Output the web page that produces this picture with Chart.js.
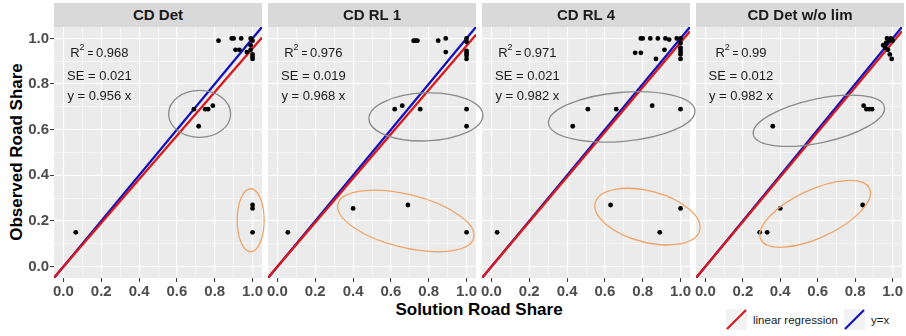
<!DOCTYPE html>
<html>
<head>
<meta charset="utf-8">
<script src="https://cdn.jsdelivr.net/npm/chart.js@4.4.0/dist/chart.umd.min.js"></script>
<style>
  body { margin: 0; background: #fff; }
  #wrap { position: relative; width: 906px; height: 336px; overflow: hidden; font-family: "Liberation Sans", Arial, sans-serif; }
  #wrap canvas { position: absolute; left: 0; top: 0; }
  .strip { position: absolute; top: 3px; height: 24px; background: #D9D9D9; color: #1A1A1A; font-weight: bold; font-size: 15px; line-height: 24px; text-align: center; z-index: 20; }
  .xtitle { position: absolute; left: 0; width: 958px; top: 300px; text-align: center; font-weight: bold; font-size: 17px; line-height: 20px; color: #000; }
  .ytitle { position: absolute; left: 17px; top: 152px; transform: translate(-50%, -50%) rotate(-90deg); white-space: nowrap; font-weight: bold; font-size: 17px; line-height: 20px; color: #000; }
  .legend { position: absolute; top: 309px; left: 726px; height: 21px; display: flex; align-items: center; font-size: 11.5px; color: #1A1A1A; }
  .legend svg { display: block; }
  .legend span { margin: 0 6px 0 6px; }
</style>
</head>
<body>
<div id="wrap">
  <div class="xtitle">Solution Road Share</div>
  <div class="ytitle">Observed Road Share</div>
  <div class="legend">
    <svg width="21" height="21"><rect width="21" height="21" fill="#F2F2F2"/><line x1="1" y1="20" x2="20" y2="1" stroke="#D7191C" stroke-width="2.2"/></svg>
    <span>linear regression</span>
    <svg width="21" height="21"><rect width="21" height="21" fill="#F2F2F2"/><line x1="1" y1="20" x2="20" y2="1" stroke="#1010C0" stroke-width="2.2"/></svg>
    <span>y=x</span>
  </div>
</div>
<script>
const tickVals = [0, 0.1, 0.2, 0.3, 0.4, 0.5, 0.6, 0.7, 0.8, 0.9, 1.0];
const panelTitles = ["CD Det", "CD RL 1", "CD RL 4", "CD Det w/o lim"];
const slopes = [0.956, 0.968, 0.982, 0.982];
const r2Values = ["0.968", "0.976", "0.971", "0.99"];
const seValues = ["0.021", "0.019", "0.021", "0.012"];

const detX = [0.82, 0.89, 0.90, 0.94, 0.99, 1.00, 0.99, 0.91, 0.93, 0.97, 0.99, 1.00, 1.00, 1.00, 0.69, 0.75, 0.765, 0.79, 0.715, 1.00, 1.00, 1.00, 0.065];
const detY = [0.99, 1.00, 1.00, 1.00, 1.00, 0.99, 0.97, 0.95, 0.95, 0.94, 0.95, 0.93, 0.92, 0.91, 0.69, 0.69, 0.69, 0.705, 0.615, 0.27, 0.255, 0.15, 0.15];

const rl1X = [0.72, 0.73, 0.74, 0.85, 0.89, 0.89, 1.00, 1.00, 1.00, 1.00, 1.00, 1.00, 0.62, 0.66, 0.755, 1.00, 1.00, 0.40, 0.69, 1.00, 0.055];
const rl1Y = [0.99, 0.99, 0.99, 0.99, 1.00, 0.94, 1.00, 0.985, 0.945, 0.935, 0.925, 0.91, 0.69, 0.705, 0.69, 0.69, 0.615, 0.255, 0.27, 0.15, 0.15];

const rl4X = [0.79, 0.80, 0.84, 0.88, 0.92, 0.94, 0.98, 1.00, 0.76, 0.79, 0.915, 0.87, 1.00, 1.00, 1.00, 1.00, 1.00, 1.00, 0.43, 0.51, 0.66, 0.85, 1.00, 0.63, 0.89, 1.00, 0.03];
const rl4Y = [1.00, 1.00, 1.00, 1.00, 1.00, 0.995, 1.00, 1.00, 0.937, 0.937, 0.95, 0.91, 0.98, 0.96, 0.95, 0.94, 0.93, 0.91, 0.615, 0.69, 0.69, 0.705, 0.69, 0.27, 0.15, 0.255, 0.15];

const noLimX = [0.95, 0.965, 0.97, 0.99, 0.98, 1.00, 0.975, 0.985, 0.995, 0.96, 0.36, 0.845, 0.86, 0.875, 0.89, 0.29, 0.33, 0.40, 0.84];
const noLimY = [0.97, 0.98, 1.00, 1.00, 0.99, 0.99, 0.95, 0.93, 0.91, 0.96, 0.615, 0.705, 0.69, 0.69, 0.69, 0.15, 0.15, 0.255, 0.27];

const seriesX = [detX, rl1X, rl4X, noLimX];
const seriesY = [detY, rl1Y, rl4Y, noLimY];

// highlight ellipses: centre in data units, half axes in px, rotation in degrees
const grayEllipses = [
  { cx: 0.72, cy: 0.669, a: 31, b: 23.5, rot: 0 },
  { cx: 0.785, cy: 0.656, a: 57, b: 24, rot: -2 },
  { cx: 0.689, cy: 0.656, a: 73.5, b: 24.5, rot: -5 },
  { cx: 0.606, cy: 0.639, a: 67, b: 22, rot: -12 }
];
const orangeEllipses = [
  { cx: 0.99, cy: 0.203, a: 13.5, b: 31.5, rot: 0 },
  { cx: 0.679, cy: 0.2, a: 70, b: 26.5, rot: 14 },
  { cx: 0.825, cy: 0.219, a: 54, b: 25.5, rot: 15 },
  { cx: 0.586, cy: 0.231, a: 60, b: 24, rot: -25 }
];

const RED = "#D7191C";
const BLUE = "#1010C0";
const panelLeft = [54, 268, 482, 696];
const panelWidth = 208;
const panelTop = 27;
const panelBottom = 278;
const FONT = "'Liberation Sans', Arial, sans-serif";

const isMajor = (v) => Math.round(v * 10) % 2 === 0;

const drawEllipse = (chart, e, color) => {
  const { ctx, scales } = chart;
  ctx.save();
  ctx.strokeStyle = color;
  ctx.lineWidth = 1.3;
  ctx.beginPath();
  ctx.ellipse(scales.x.getPixelForValue(e.cx), scales.y.getPixelForValue(e.cy), e.a, e.b, (e.rot * Math.PI) / 180, 0, Math.PI * 2);
  ctx.stroke();
  ctx.restore();
};

const drawParts = (ctx, parts, cx, cy) => {
  let total = 0;
  parts.forEach((p) => {
    ctx.font = p[1] + "px " + FONT;
    total += ctx.measureText(p[0]).width;
  });
  let x = cx - total / 2;
  parts.forEach((p) => {
    ctx.font = p[1] + "px " + FONT;
    ctx.fillText(p[0], x, cy + p[2]);
    x += ctx.measureText(p[0]).width;
  });
};

const panelDeco = {
  id: "panelDeco",
  beforeDraw(chart) {
    const { ctx, chartArea: a } = chart;
    ctx.save();
    ctx.fillStyle = "#EBEBEB";
    ctx.fillRect(a.left, a.top, a.width, a.height);
    ctx.restore();
  },
  afterDraw(chart, args, opts) {
    const { ctx, scales } = chart;
    const i = opts.index;
    drawEllipse(chart, grayEllipses[i], "#8A8A8A");
    drawEllipse(chart, orangeEllipses[i], "#F2A468");

    const px = scales.x.getPixelForValue(0.19);
    ctx.save();
    ctx.fillStyle = "#1A1A1A";
    ctx.textBaseline = "middle";
    drawParts(ctx, [["R", 13, 0], ["2", 9, -6], [" = ", 10, 1], [r2Values[i], 13, 0]], px, scales.y.getPixelForValue(0.935));
    drawParts(ctx, [["SE = " + seValues[i], 13, 0]], px, scales.y.getPixelForValue(0.835));
    drawParts(ctx, [["y = " + slopes[i] + " x", 13, 0]], px, scales.y.getPixelForValue(0.745));
    ctx.restore();
  }
};

const wrap = document.getElementById("wrap");

panelTitles.forEach((title, i) => {
  const strip = document.createElement("div");
  strip.className = "strip";
  strip.style.left = panelLeft[i] + "px";
  strip.style.width = panelWidth + "px";
  strip.textContent = title;
  wrap.appendChild(strip);

  const cv = document.createElement("canvas");
  cv.width = 906;
  cv.height = 336;
  cv.style.zIndex = 10 - i;
  wrap.appendChild(cv);

  const first = i === 0;
  const yw = first ? 40 : 0;
  const xh = 24;
  const s = slopes[i];
  const pts = seriesX[i].map((x, k) => ({ x, y: seriesY[i][k] }));

  new Chart(cv, {
    type: "scatter",
    data: {
      datasets: [
        { data: pts, backgroundColor: "#000", borderWidth: 0, pointRadius: 2.4 },
        { type: "line", data: [{ x: -0.05, y: -0.05 * s }, { x: 1.05, y: 1.05 * s }], borderColor: RED, borderWidth: 2.3, pointRadius: 0 },
        { type: "line", data: [{ x: -0.05, y: -0.05 }, { x: 1.05, y: 1.05 }], borderColor: BLUE, borderWidth: 2.3, pointRadius: 0 }
      ]
    },
    options: {
      responsive: false,
      animation: false,
      devicePixelRatio: 1,
      layout: {
        padding: { left: panelLeft[i] - yw, right: 906 - panelLeft[i] - panelWidth, top: panelTop, bottom: 336 - panelBottom - xh }
      },
      plugins: { legend: { display: false }, tooltip: { enabled: false }, panelDeco: { index: i } },
      scales: {
        x: {
          type: "linear",
          min: -0.05,
          max: 1.05,
          afterBuildTicks: (sc) => { sc.ticks = tickVals.map((v) => ({ value: v })); },
          afterFit: (sc) => { sc.height = xh; },
          border: { display: false },
          grid: {
            color: "#FFFFFF",
            lineWidth: (c) => (c.tick && isMajor(c.tick.value) ? 1.1 : 0.55),
            tickColor: (c) => (c.tick && isMajor(c.tick.value) ? "#333333" : "rgba(0,0,0,0)"),
            tickLength: 4,
            tickWidth: 1
          },
          ticks: {
            autoSkip: false,
            maxRotation: 0,
            padding: 1,
            color: "#4D4D4D",
            font: { family: FONT, size: 15, weight: "bold" },
            callback: (v) => (isMajor(v) ? v.toFixed(1) : "")
          }
        },
        y: {
          type: "linear",
          min: -0.05,
          max: 1.05,
          afterBuildTicks: (sc) => { sc.ticks = tickVals.map((v) => ({ value: v })); },
          afterFit: (sc) => { sc.width = yw; },
          border: { display: false },
          grid: {
            color: "#FFFFFF",
            lineWidth: (c) => (c.tick && isMajor(c.tick.value) ? 1.1 : 0.55),
            drawTicks: first,
            tickColor: (c) => (c.tick && isMajor(c.tick.value) ? "#333333" : "rgba(0,0,0,0)"),
            tickLength: 4,
            tickWidth: 1
          },
          ticks: {
            display: first,
            autoSkip: false,
            padding: 1,
            color: "#4D4D4D",
            font: { family: FONT, size: 15, weight: "bold" },
            callback: (v) => (isMajor(v) ? v.toFixed(1) : "")
          }
        }
      }
    },
    plugins: [panelDeco]
  });
});
</script>
</body>
</html>
